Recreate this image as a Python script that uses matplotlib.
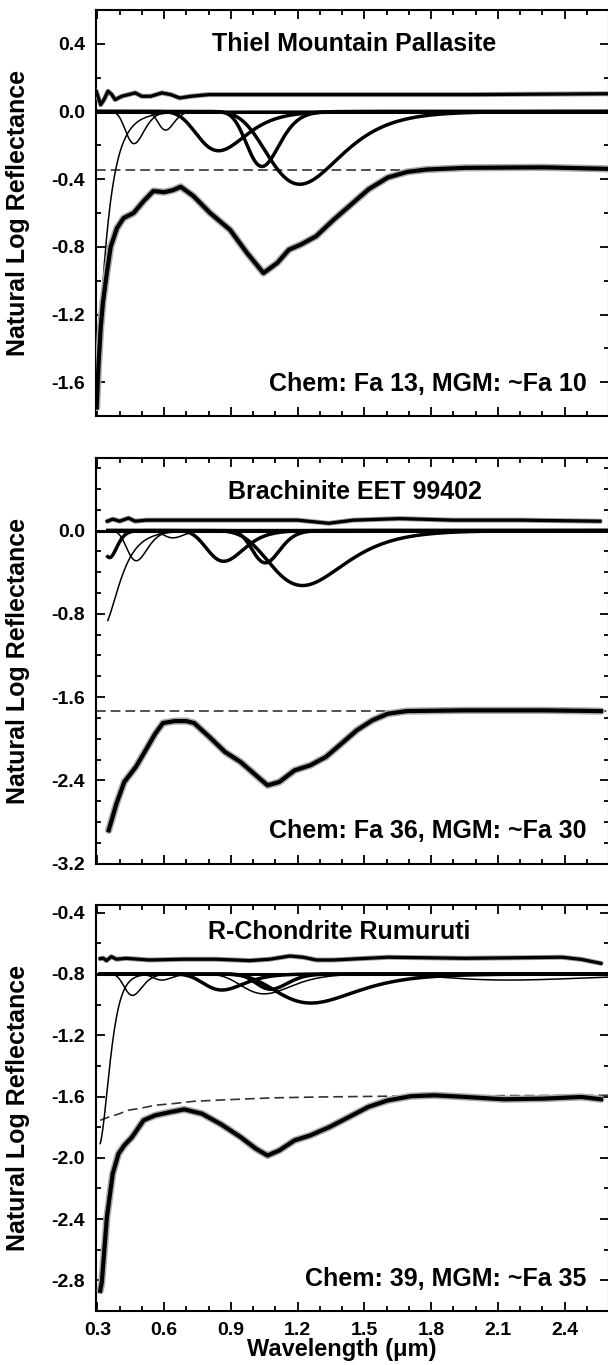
import numpy as np
import matplotlib
matplotlib.use("Agg")
import matplotlib.pyplot as plt
from matplotlib.ticker import MultipleLocator, FormatStrFormatter

plt.rcParams['font.family'] = ['Liberation Sans', 'DejaVu Sans']
plt.rcParams['font.weight'] = 'bold'
plt.rcParams['lines.scale_dashes'] = False

# ---------------- data ----------------
XLIM = (0.294, 2.6)

# Panel 1: Thiel Mountain Pallasite
p1_title = "Thiel Mountain Pallasite"
p1_note = "Chem: Fa 13, MGM: ~Fa 10"
p1_spec_wl = [0.297, 0.305, 0.315, 0.325, 0.343, 0.36, 0.388, 0.418, 0.463, 0.508, 0.552, 0.60, 0.64,
              0.675, 0.732, 0.807, 0.897, 0.972, 1.047, 1.109, 1.161, 1.214, 1.283, 1.362, 1.432,
              1.519, 1.606, 1.693, 1.78, 1.954, 2.302, 2.595]
p1_spec = [-1.75, -1.50, -1.28, -1.13, -0.95, -0.80, -0.69, -0.63, -0.60, -0.53, -0.47, -0.477, -0.465,
           -0.445, -0.50, -0.60, -0.70, -0.835, -0.955, -0.895, -0.817, -0.787, -0.738, -0.64, -0.56,
           -0.46, -0.39, -0.357, -0.343, -0.333, -0.33, -0.339]
p1_resid_wl = [0.295, 0.315, 0.33, 0.348, 0.365, 0.38, 0.41, 0.44, 0.47, 0.50, 0.54, 0.59, 0.63, 0.67,
               0.72, 0.80, 1.0, 1.5, 2.0, 2.6]
p1_resid = [0.12, 0.04, 0.07, 0.12, 0.10, 0.07, 0.09, 0.10, 0.11, 0.09, 0.09, 0.11, 0.10, 0.08,
            0.09, 0.10, 0.10, 0.10, 0.10, 0.105]
p1_cont_wl = [0.295, 2.6]
p1_cont = [-0.345, -0.345]
p1_offset = 0.0
p1_band_center = [0.239, 0.465, 0.607, 0.845, 1.04, 1.21]
p1_band_depth = [2.98, 0.19, 0.11, 0.232, 0.325, 0.43]
p1_band_sigma = [0.755, 0.19, 0.095, 0.15, 0.067, 0.11]
p1_band_thick = [False, False, False, True, True, True]
p1_start = 0.295

# Panel 2: Brachinite EET 99402
p2_title = "Brachinite EET 99402"
p2_note = "Chem: Fa 36, MGM: ~Fa 30"
p2_spec_wl = [0.351, 0.386, 0.421, 0.473, 0.517, 0.560, 0.595, 0.648, 0.700, 0.735, 0.804, 0.874,
              0.944, 1.013, 1.065, 1.118, 1.187, 1.257, 1.327, 1.397, 1.466, 1.536, 1.606, 1.693,
              1.954, 2.302, 2.564]
p2_spec = [-2.879, -2.623, -2.415, -2.271, -2.111, -1.952, -1.849, -1.830, -1.830, -1.849, -1.983,
           -2.127, -2.223, -2.351, -2.447, -2.415, -2.303, -2.255, -2.175, -2.047, -1.919, -1.823,
           -1.759, -1.734, -1.727, -1.727, -1.734]
p2_resid_wl = [0.345, 0.37, 0.40, 0.44, 0.47, 0.52, 0.6, 0.8, 1.0, 1.2, 1.34, 1.45, 1.66, 1.9, 2.2, 2.56]
p2_resid = [0.09, 0.11, 0.09, 0.12, 0.09, 0.10, 0.10, 0.10, 0.10, 0.10, 0.07, 0.10, 0.115, 0.10, 0.10, 0.09]
p2_cont_wl = [0.295, 2.6]
p2_cont = [-1.734, -1.734]
p2_offset = 0.0
p2_band_center = [0.324, 0.355, 0.475, 0.64, 0.868, 1.055, 1.222]
p2_band_depth = [0.93, 0.26, 0.29, 0.07, 0.295, 0.31, 0.528]
p2_band_sigma = [0.532, 0.24, 0.20, 0.11, 0.108, 0.055, 0.11]
p2_band_thick = [False, True, False, False, True, True, True]
p2_start = 0.347

# Panel 3: R-Chondrite Rumuruti
p3_title = "R-Chondrite Rumuruti"
p3_note = "Chem: 39, MGM: ~Fa 35"
p3_spec_wl = [0.313, 0.320, 0.343, 0.369, 0.395, 0.421, 0.456, 0.508, 0.560, 0.630, 0.691, 0.770,
              0.857, 0.944, 1.013, 1.065, 1.118, 1.187, 1.257, 1.344, 1.431, 1.518, 1.606, 1.710,
              1.815, 1.954, 2.128, 2.302, 2.476, 2.564]
p3_spec = [-2.868, -2.814, -2.388, -2.105, -1.974, -1.919, -1.865, -1.755, -1.723, -1.701, -1.684,
           -1.712, -1.782, -1.865, -1.941, -1.985, -1.952, -1.886, -1.854, -1.799, -1.734, -1.668,
           -1.625, -1.598, -1.592, -1.603, -1.618, -1.614, -1.603, -1.618]
p3_resid_wl = [0.313, 0.326, 0.341, 0.363, 0.386, 0.43, 0.535, 0.685, 0.835, 0.985, 1.075, 1.165,
               1.225, 1.285, 1.36, 1.606, 1.954, 2.39, 2.476, 2.564]
p3_resid = [-0.70, -0.697, -0.713, -0.687, -0.704, -0.698, -0.709, -0.704, -0.704, -0.713, -0.704,
            -0.683, -0.691, -0.709, -0.709, -0.691, -0.698, -0.691, -0.705, -0.731]
p3_cont_wl = [0.313, 0.35, 0.40, 0.438, 0.50, 0.56, 0.65, 0.735, 0.90, 1.083, 1.3, 1.606, 2.0, 2.6]
p3_cont = [-1.755, -1.735, -1.712, -1.69, -1.675, -1.657, -1.645, -1.631, -1.62, -1.609, -1.603,
           -1.598, -1.595, -1.592]
p3_offset = -0.8
p3_band_center = [0.306, 0.458, 0.59, 0.86, 1.05, 1.08, 1.26, 2.15]
p3_band_depth = [1.125, 0.14, 0.04, 0.105, 0.13, 0.10, 0.19, 0.04]
p3_band_sigma = [0.407, 0.19, 0.12, 0.12, 0.10, 0.06, 0.11, 0.07]
p3_band_thick = [False, False, False, True, False, True, True, False]
p3_start = 0.313

YLIMS = [(-1.8, 0.6), (-3.2, 0.7), (-3.0, -0.35)]
YMAJOR = [0.4, 0.8, 0.4]
YMINOR = [0.2, 0.2, 0.2]
X_TICKS = [0.3, 0.6, 0.9, 1.2, 1.5, 1.8, 2.1, 2.4]

# ---------------- figure ----------------
W, H = 608, 1365
fig = plt.figure(figsize=(W / 100, H / 100), dpi=100)

def frac_box(left, top, right, bottom):
    return [left / W, 1 - bottom / H, (right - left) / W, (bottom - top) / H]

boxes = [frac_box(96, 10, 609, 416), frac_box(96, 457.7, 609, 863.7), frac_box(96, 905, 609, 1311)]

panels = [
    (p1_title, p1_note, p1_spec_wl, p1_spec, p1_resid_wl, p1_resid, p1_cont_wl, p1_cont, p1_offset,
     p1_band_center, p1_band_depth, p1_band_sigma, p1_band_thick, p1_start, 0.503, 0.916),
    (p2_title, p2_note, p2_spec_wl, p2_spec, p2_resid_wl, p2_resid, p2_cont_wl, p2_cont, p2_offset,
     p2_band_center, p2_band_depth, p2_band_sigma, p2_band_thick, p2_start, 0.505, 0.916),
    (p3_title, p3_note, p3_spec_wl, p3_spec, p3_resid_wl, p3_resid, p3_cont_wl, p3_cont, p3_offset,
     p3_band_center, p3_band_depth, p3_band_sigma, p3_band_thick, p3_start, 0.474, 0.934),
]

for i, (title, note, swl, sv, rwl, rv, cwl, cv, off, bc, bd, bs, bt, start, tx, ty) in enumerate(panels):
    ax = fig.add_axes(boxes[i])
    ax.set_xlim(*XLIM)
    ax.set_ylim(*YLIMS[i])

    # bands (modified-Gaussian components, in energy space)
    wl = np.linspace(start, 2.6, 800)
    for c, d, s, thick in zip(bc, bd, bs, bt):
        y = off - d * np.exp(-((1 / wl - 1 / c) ** 2) / (2 * s ** 2))
        ax.plot(wl, y, color='black', lw=2.5 if thick else 1.1, zorder=3)

    # zero line
    ax.plot([XLIM[0], 2.6], [off, off], color='black', lw=2.2, zorder=4)
    # continuum
    ax.plot(cwl, cv, color='#333333', lw=1.2, linestyle=(0, (7, 3.6)), zorder=2)
    # residual
    ax.plot(rwl, rv, color='#999999', lw=3.6, zorder=4, solid_capstyle='round')
    ax.plot(rwl, rv, color='black', lw=2.3, zorder=5)
    # spectrum (data halo + fit)
    ax.plot(swl, sv, color='#aaaaaa', lw=5.2, zorder=5, solid_capstyle='round')
    ax.plot(swl, sv, color='black', lw=3.0, zorder=6)

    ax.text(tx, ty, title, transform=ax.transAxes, ha='center', va='center',
            fontsize=18, fontweight='bold')
    ax.text(0.956, 0.08, note, transform=ax.transAxes, ha='right', va='center',
            fontsize=18, fontweight='bold')

    ax.xaxis.set_major_locator(plt.FixedLocator(X_TICKS))
    ax.xaxis.set_minor_locator(MultipleLocator(0.1))
    ax.yaxis.set_major_locator(MultipleLocator(YMAJOR[i]))
    ax.yaxis.set_minor_locator(MultipleLocator(YMINOR[i]))
    ax.yaxis.set_major_formatter(FormatStrFormatter('%.1f'))
    ax.xaxis.set_major_formatter(FormatStrFormatter('%.1f'))
    ax.tick_params(which='both', direction='in', top=True, right=True, width=1.3)
    ax.tick_params(which='major', length=6.5, labelsize=14, pad=8)
    ax.tick_params(which='minor', length=3.6)
    for lab in ax.get_xticklabels() + ax.get_yticklabels():
        lab.set_fontweight('bold')
    for sp in ax.spines.values():
        sp.set_linewidth(1.5)
    if i < 2:
        ax.tick_params(labelbottom=False)
    else:
        ax.set_xlabel("Wavelength (\u03bcm)", fontsize=17, fontweight='bold')
        ax.xaxis.set_label_coords(0.48, -0.067)
    ax.set_ylabel("Natural Log Reflectance", fontsize=18, fontweight='bold')
    ax.yaxis.set_label_coords(-0.128, 0.5)

fig.savefig("out.png", dpi=100)
